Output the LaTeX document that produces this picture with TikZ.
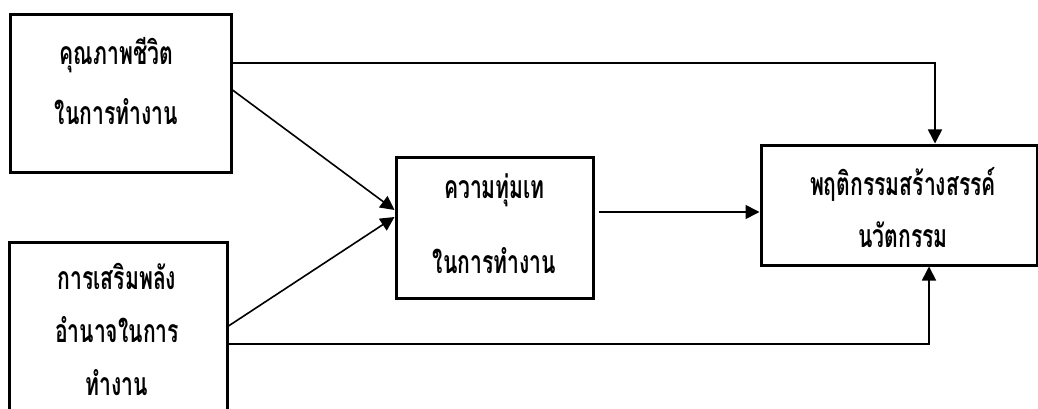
\documentclass[tikz,border=0pt]{standalone}
\usepackage{fontspec}
\newfontfamily\thai[Script=Thai,FakeStretch=0.66]{Loma}
\usetikzlibrary{arrows.meta}
\tikzset{
  box/.style={draw, line width=3pt, fill=white, rectangle, inner sep=0pt},
  txt/.style={inner sep=0pt, align=center},
  arr/.style={line width=1.6pt, -{Triangle[length=14pt,width=14pt]}}
}
\newcommand{\thf}[1]{\thai\bfseries\fontsize{32}{#1}\selectfont}
\begin{document}
\begin{tikzpicture}[x=1pt,y=-1pt]
\clip (0,0) rectangle (1038,409);
\fill[white] (0,0) rectangle (1038,409);
\node[box, minimum width=221pt, minimum height=157pt] (A) at (120.5,93.5) {};
\node[box, minimum width=218pt, minimum height=189pt] (B) at (118,336.5) {};
\node[box, minimum width=197pt, minimum height=141pt] (C) at (494.5,227.5) {};
\node[box, minimum width=276pt, minimum height=120pt] (D) at (899,205) {};
\node[txt, font={\thf{60}}] (At) at ([xshift=-4pt,yshift=12pt]A.center) {คุณภาพชีวิต\\ในการทำงาน};
\node[txt, font={\thf{53}}] (Bt) at ([xshift=-1pt,yshift=7pt]B.center) {การเสริมพลัง\\อำนาจในการ\\ทำงาน};
\node[txt, font={\thf{75}}] (Ct) at ([yshift=4pt]C.center) {ความทุ่มเท\\ในการทำงาน};
\node[txt, font={\thf{52}}] (Dt) at ([xshift=4pt,yshift=-3pt]D.center) {พฤติกรรมสร้างสรรค์\\นวัตกรรม};
\draw[arr] ([yshift=30.5pt]A.east) -| ([xshift=36pt]D.north);
\draw[arr] ([yshift=3.5pt]A.east) -- ([yshift=17.5pt]C.west);
\draw[arr] ([yshift=10.5pt]B.east) -- ([yshift=10.5pt]C.west);
\draw[arr] ([xshift=4pt,yshift=15.5pt]C.east) -- ([yshift=-7pt]D.west);
\draw[arr] ([yshift=-7.5pt]B.east) -| ([xshift=30pt]D.south);
\end{tikzpicture}
\end{document}
